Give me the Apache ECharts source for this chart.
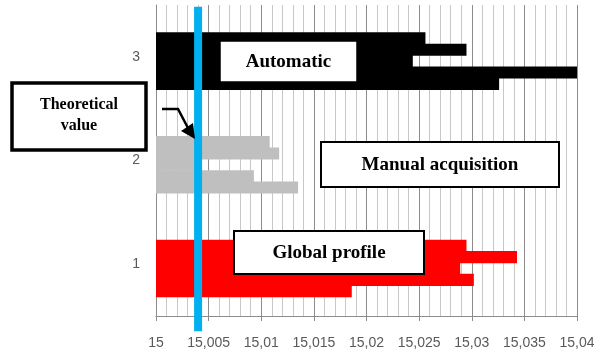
<!DOCTYPE html>
<html>
<head>
<meta charset="utf-8">
<script src="https://cdn.jsdelivr.net/npm/echarts@6/dist/echarts.min.js"></script>
<style>
	html, body { margin: 0; padding: 0; background: #fff; }
	#chart { width: 594px; height: 352px; }
</style>
</head>
<body>
<div id="chart"></div>
<script>
	// categories on the y axis (bottom to top)
	const categories = ['1', '2', '3']
	// five readings per profile, listed top to bottom inside each band
	const globalProfile = [15.0295, 15.0343, 15.0289, 15.0302, 15.0186]
	const manualAcquisition = [15.0108, 15.0117, 15.0039, 15.0093, 15.0135]
	const automatic = [15.0256, 15.0295, 15.0244, 15.0401, 15.0326]
	const theoreticalValue = 15.004
	const xTickLabels = ['15', '15,005', '15,01', '15,015', '15,02', '15,025', '15,03', '15,035', '15,04']

	const barColors = ['#ff0000', '#bfbfbf', '#000000']

	const chart = echarts.init(document.getElementById('chart'))

	const barSeries = []
	// empty spacer so the groups sit a bit under the label, like the original
	barSeries.push({
		name: 'spacer',
		type: 'bar',
		data: [],
		barWidth: 9.2,
		barGap: '-6%',
		silent: true
	})
	for (let i = 0; i < 5; i++) {
		const vals = [globalProfile[i], manualAcquisition[i], automatic[i]]
		barSeries.push({
			name: 'reading ' + (i + 1),
			type: 'bar',
			barWidth: 12.1,
			// small overlap so no seam shows between neighbouring bars
			barGap: '-6%',
			data: vals.map((v, k) => ({
				value: v,
				itemStyle: { color: barColors[k] }
			}))
		})
	}

	const option = {
		animation: false,
		grid: {
			left: 156,
			right: 17,
			top: 5,
			bottom: 36,
			containLabel: false,
			outerBoundsMode: 'none'
		},
		xAxis: {
			type: 'value',
			min: 15,
			max: 15.04,
			interval: 0.005,
			axisLine: { show: true, lineStyle: { color: '#8c8c8c', width: 1 } },
			axisTick: { show: true, length: 5, lineStyle: { color: '#8c8c8c' } },
			axisLabel: {
				margin: 20,
				color: '#595959',
				fontSize: 14,
				fontFamily: 'Liberation Sans',
				formatter: function (v) {
					return xTickLabels[Math.round((v - 15) / 0.005)]
				}
			},
			splitLine: { show: true, lineStyle: { color: '#8c8c8c', width: 1 } },
			minorTick: { show: false, splitNumber: 5 },
			minorSplitLine: { show: true, lineStyle: { color: '#c8c8c8', width: 1 } }
		},
		yAxis: [
			{
				type: 'category',
				data: categories,
				axisLine: { show: true, lineStyle: { color: '#8c8c8c' } },
				axisTick: { show: false },
				axisLabel: {
					margin: 16,
					color: '#595959',
					fontSize: 14,
					fontFamily: 'Liberation Sans'
				},
				splitLine: { show: false }
			},
			{
				// hidden helper axis, only used to place the theoretical value line
				type: 'value',
				min: 0,
				max: 100,
				show: false
			}
		],
		series: barSeries.concat([
			{
				name: 'Theoretical value',
				type: 'line',
				xAxisIndex: 0,
				yAxisIndex: 1,
				clip: false,
				symbol: 'none',
				z: 5,
				lineStyle: { color: '#00b0f0', width: 8 },
				data: [[theoreticalValue, -4.9], [theoreticalValue, 99.4]]
			}
		]),
		graphic: [
			// Automatic
			{
				type: 'rect', z: 100,
				shape: { x: 220, y: 41, width: 137, height: 41 },
				style: { fill: '#fff', stroke: '#000', lineWidth: 1.5 }
			},
			{
				type: 'text', z: 101, x: 288.5, y: 62,
				style: {
					text: 'Automatic', fill: '#000',
					font: 'bold 19px "Liberation Serif"',
					align: 'center', verticalAlign: 'middle',
					textAlign: 'center', textVerticalAlign: 'middle'
				}
			},
			// Manual acquisition
			{
				type: 'rect', z: 100,
				shape: { x: 321, y: 142, width: 238, height: 45 },
				style: { fill: '#fff', stroke: '#000', lineWidth: 2 }
			},
			{
				type: 'text', z: 101, x: 440, y: 165,
				style: {
					text: 'Manual acquisition', fill: '#000',
					font: 'bold 19px "Liberation Serif"',
					align: 'center', verticalAlign: 'middle',
					textAlign: 'center', textVerticalAlign: 'middle'
				}
			},
			// Global profile
			{
				type: 'rect', z: 100,
				shape: { x: 234, y: 231, width: 190, height: 43 },
				style: { fill: '#fff', stroke: '#000', lineWidth: 2 }
			},
			{
				type: 'text', z: 101, x: 329, y: 253,
				style: {
					text: 'Global profile', fill: '#000',
					font: 'bold 19px "Liberation Serif"',
					align: 'center', verticalAlign: 'middle',
					textAlign: 'center', textVerticalAlign: 'middle'
				}
			},
			// Theoretical value
			{
				type: 'rect', z: 100,
				shape: { x: 12, y: 83, width: 134, height: 67 },
				style: { fill: '#fff', stroke: '#000', lineWidth: 3.5 }
			},
			{
				type: 'text', z: 101, x: 79, y: 115,
				style: {
					text: 'Theoretical\nvalue', fill: '#000',
					font: 'bold 16px "Liberation Serif"',
					lineHeight: 21,
					align: 'center', verticalAlign: 'middle',
					textAlign: 'center', textVerticalAlign: 'middle'
				}
			},
			// arrow
			{
				type: 'polyline', z: 100,
				shape: { points: [[162, 109], [178, 109], [188, 128]] },
				style: { stroke: '#000', lineWidth: 2.5, fill: null }
			},
			{
				type: 'polygon', z: 100,
				shape: { points: [[181, 131], [193, 123], [195, 139]] },
				style: { fill: '#000' }
			}
		]
	}

	chart.setOption(option)
	window.onresize = () => {
		chart.resize()
	}
</script>
</body>
</html>
